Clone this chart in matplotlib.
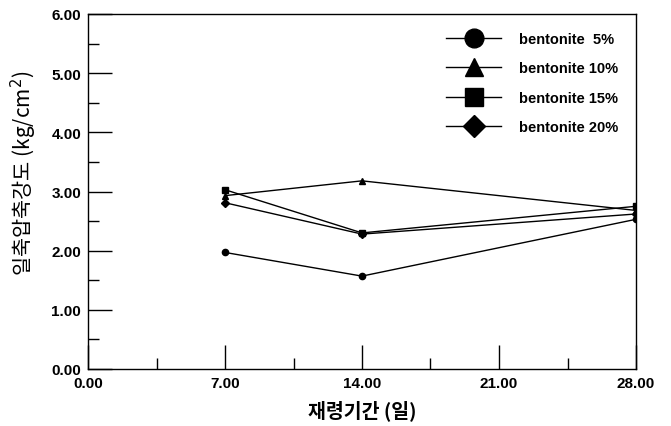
import matplotlib.pyplot as plt
from matplotlib.ticker import MultipleLocator, FormatStrFormatter

plt.rcParams['font.family'] = ['Liberation Sans', 'Noto Sans CJK KR', 'DejaVu Sans']

days = [7, 14, 28]
bentonite_5 = [1.97, 1.57, 2.53]
bentonite_10 = [2.93, 3.18, 2.68]
bentonite_15 = [3.03, 2.30, 2.75]
bentonite_20 = [2.81, 2.28, 2.62]

series = [
    ('bentonite  5%', bentonite_5, 'o', 4.5),
    ('bentonite 10%', bentonite_10, '^', 4.5),
    ('bentonite 15%', bentonite_15, 's', 4.5),
    ('bentonite 20%', bentonite_20, 'D', 3.8),
]

W, H = 671, 427
fig = plt.figure(figsize=(W / 100, H / 100), dpi=100)
# axes box in pixels: left 88, right 636, top 15, bottom 370
ax = fig.add_axes([88 / W, 1 - 370 / H, (636 - 88) / W, (370 - 15) / H])

for label, vals, mk, ms in series:
    ax.plot(days, vals, color='black', lw=1.0, marker=mk, ms=ms, label=label)

ax.set_xlim(0, 28)
ax.set_ylim(0, 6)
ax.xaxis.set_major_locator(MultipleLocator(7))
ax.xaxis.set_minor_locator(MultipleLocator(3.5))
ax.yaxis.set_major_locator(MultipleLocator(1))
ax.yaxis.set_minor_locator(MultipleLocator(0.5))
ax.xaxis.set_major_formatter(FormatStrFormatter('%.2f'))
ax.yaxis.set_major_formatter(FormatStrFormatter('%.2f'))
ax.tick_params(which='major', direction='in', length=17, width=1.0,
               labelsize=11, top=False, right=False, pad=5)
ax.tick_params(which='minor', direction='in', length=8, width=1.0,
               top=False, right=False)
for lbl in ax.get_xticklabels() + ax.get_yticklabels():
    lbl.set_fontweight('bold')
for sp in ax.spines.values():
    sp.set_linewidth(1.0)

ax.set_xlabel('재령기간 (일)', fontsize=14, fontweight='bold',
              family=['Noto Sans CJK KR', 'DejaVu Sans'], labelpad=7)
ax.set_ylabel('일축압축강도 (kg/cm$^2$)', fontsize=15,
              family=['Noto Sans CJK KR', 'DejaVu Sans'])
ax.yaxis.set_label_coords(-0.09, 0.555)

leg = ax.legend(loc='upper left', bbox_to_anchor=(446 / W, 1 - 33 / H),
                bbox_transform=fig.transFigure, frameon=False,
                borderpad=0, borderaxespad=0,
                markerscale=3.0, handlelength=3.8, handletextpad=1.2,
                labelspacing=1.05, prop={'weight': 'bold', 'size': 10.5})

fig.savefig('out.png', dpi=100)
